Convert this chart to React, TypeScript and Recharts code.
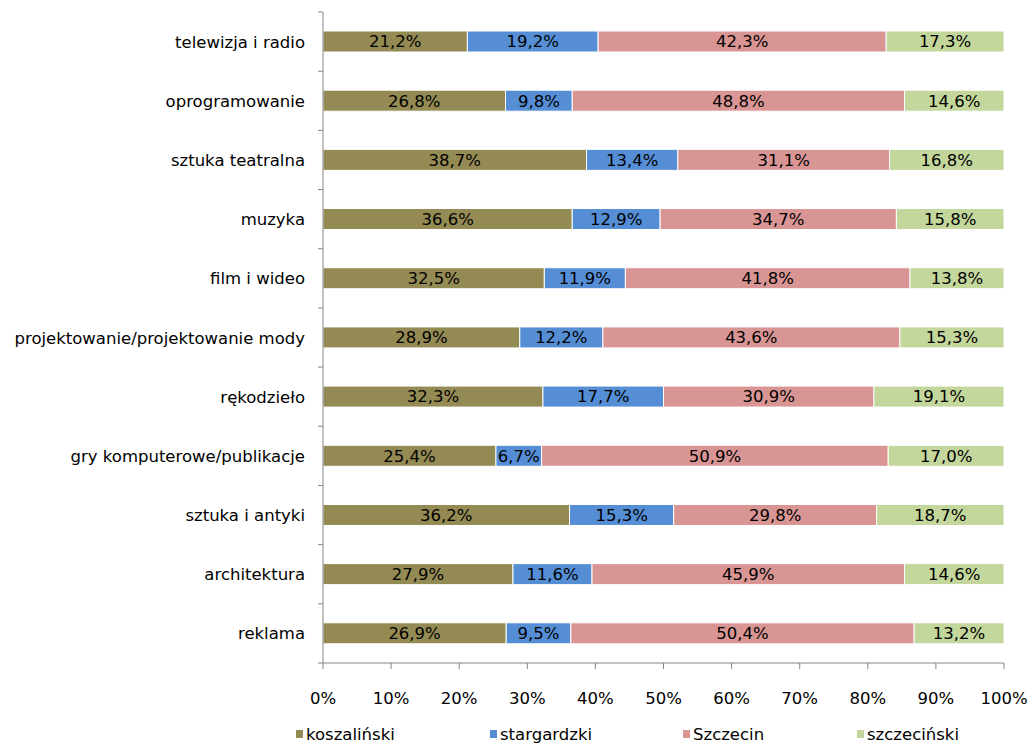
import { Bar, BarChart, LabelList, Legend, XAxis, YAxis } from "recharts";

const categories = [
  "telewizja i radio",
  "oprogramowanie",
  "sztuka teatralna",
  "muzyka",
  "film i wideo",
  "projektowanie/projektowanie mody",
  "rękodzieło",
  "gry komputerowe/publikacje",
  "sztuka i antyki",
  "architektura",
  "reklama",
];

const koszalinski = [21.2, 26.8, 38.7, 36.6, 32.5, 28.9, 32.3, 25.4, 36.2, 27.9, 26.9];
const stargardzki = [19.2, 9.8, 13.4, 12.9, 11.9, 12.2, 17.7, 6.7, 15.3, 11.6, 9.5];
const szczecin = [42.3, 48.8, 31.1, 34.7, 41.8, 43.6, 30.9, 50.9, 29.8, 45.9, 50.4];
const szczecinski = [17.3, 14.6, 16.8, 15.8, 13.8, 15.3, 19.1, 17.0, 18.7, 14.6, 13.2];

const xTicks = [0, 10, 20, 30, 40, 50, 60, 70, 80, 90, 100];

const series = [
  { key: "koszalinski", name: "koszaliński", color: "#948A54", width: 194 },
  { key: "stargardzki", name: "stargardzki", color: "#558ED5", width: 193 },
  { key: "szczecin", name: "Szczecin", color: "#D99594", width: 174 },
  { key: "szczecinski", name: "szczeciński", color: "#C3D69B", width: 150 },
];

const data = categories.map((name, i) => ({
  name,
  koszalinski: koszalinski[i],
  stargardzki: stargardzki[i],
  szczecin: szczecin[i],
  szczecinski: szczecinski[i],
}));

const FONT = "'DejaVu Sans', Verdana, sans-serif";
const FS = 16.5;
const W = 1032;
const H = 744;
const TOP = 12;
const X_AXIS_H = 61;
const LEGEND_H = 20;
const PLOT_H = H - TOP - X_AXIS_H - LEGEND_H;
const BAND = PLOT_H / categories.length;
const AXIS_COLOR = "#868686";

const fmt = (v: any) => `${Number(v).toFixed(1).replace(".", ",")}%`;

function CategoryTick(props: any) {
  const { x, y, payload, index } = props;
  const axisX = x + 18;
  return (
    <g>
      <line x1={axisX - 5} x2={axisX} y1={y - BAND / 2} y2={y - BAND / 2} stroke={AXIS_COLOR} />
      {index === categories.length - 1 ? (
        <line x1={axisX - 5} x2={axisX} y1={y + BAND / 2} y2={y + BAND / 2} stroke={AXIS_COLOR} />
      ) : null}
      <text x={x} y={y} dy={6} textAnchor="end" fill="#000" fontSize={FS} fontFamily={FONT}>
        {payload.value}
      </text>
    </g>
  );
}

function LegendBox() {
  return (
    <div style={{ display: "flex", paddingLeft: 296, height: LEGEND_H, fontFamily: FONT, fontSize: FS }}>
      {series.map((s) => (
        <div key={s.key} style={{ width: s.width, display: "flex", alignItems: "center", flexShrink: 0 }}>
          <span style={{ width: 7, height: 8, background: s.color, marginRight: 3, display: "inline-block" }} />
          <span>{s.name}</span>
        </div>
      ))}
    </div>
  );
}

export default function App() {
  return (
    <div style={{ position: "absolute", left: 0, top: 0, width: W, height: H, background: "#fff", overflow: "hidden" }}>
      <BarChart
        width={W}
        height={H}
        data={data}
        layout="vertical"
        margin={{ top: TOP, right: 28, bottom: 0, left: 0 }}
        barSize={21}
      >
        <XAxis
          type="number"
          domain={[0, 100]}
          ticks={xTicks}
          tickFormatter={(v) => `${v}%`}
          height={X_AXIS_H}
          stroke={AXIS_COLOR}
          tickSize={6}
          tickMargin={23}
          tick={{ fill: "#000", fontSize: FS, fontFamily: FONT }}
          interval={0}
        />
        <YAxis
          type="category"
          dataKey="name"
          width={323}
          stroke={AXIS_COLOR}
          tickLine={false}
          tickSize={0}
          tickMargin={18}
          tick={<CategoryTick />}
          interval={0}
        />
        <Legend verticalAlign="bottom" height={LEGEND_H} content={() => <LegendBox />} />
        {series.map((s) => (
          <Bar
            key={s.key}
            dataKey={s.key}
            name={s.name}
            stackId="a"
            fill={s.color}
            stroke="#fff"
            strokeWidth={1}
            isAnimationActive={false}
          >
            <LabelList
              dataKey={s.key}
              position="center"
              formatter={fmt}
              fill="#000"
              fontSize={FS}
              fontFamily={FONT}
            />
          </Bar>
        ))}
      </BarChart>
    </div>
  );
}
